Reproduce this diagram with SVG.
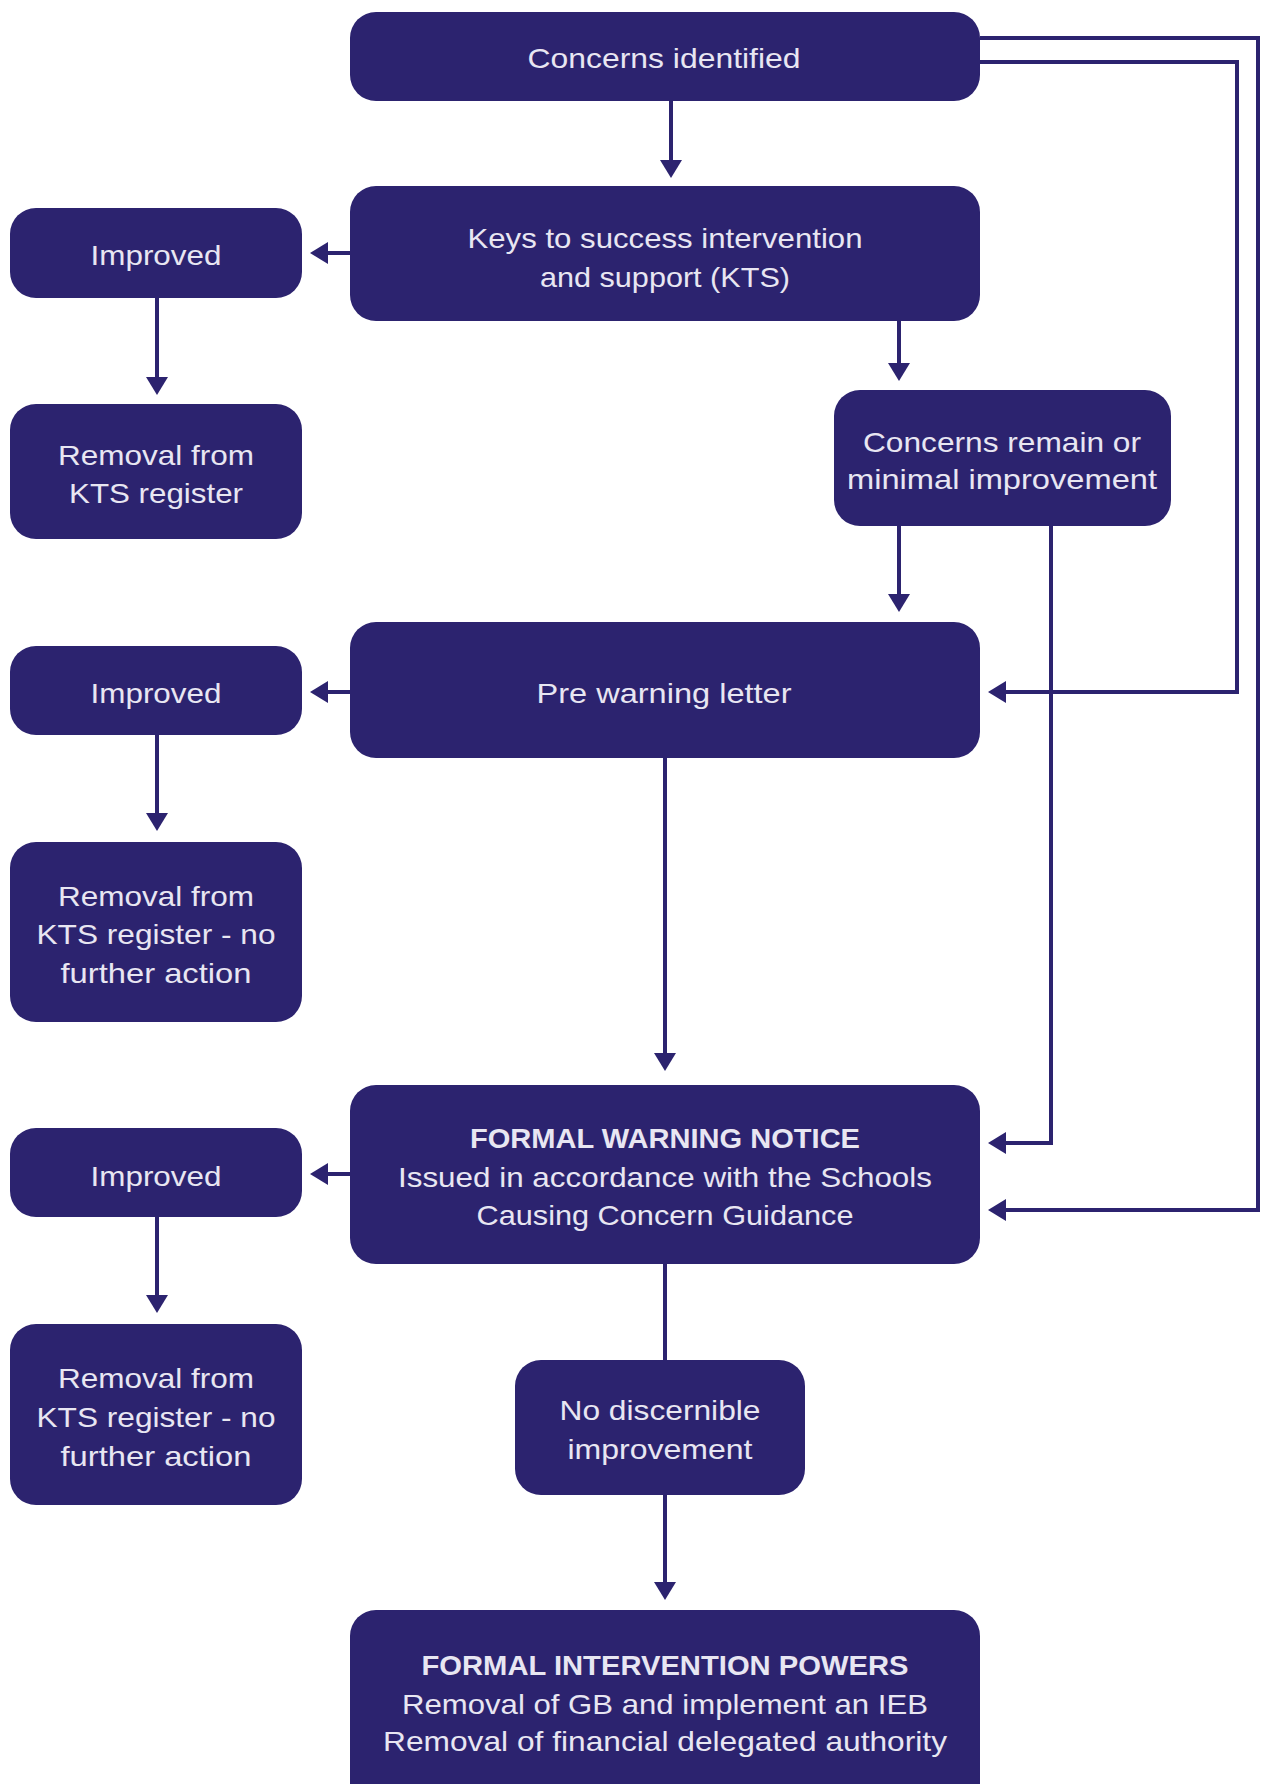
<svg xmlns="http://www.w3.org/2000/svg" width="1261" height="1784" viewBox="0 0 1261 1784">
<defs>
<style>
.box{fill:#2c236f;}
.t{font-family:"Liberation Sans",Arial,sans-serif;font-size:28px;fill:#e8e6f2;text-anchor:middle;}
.b{font-weight:bold;}
.c{fill:none;stroke:#2c236f;stroke-width:4;}
</style>
<marker id="ah" viewBox="0 0 18 22" refX="6" refY="11" markerWidth="18" markerHeight="22" markerUnits="userSpaceOnUse" orient="auto">
<path d="M0,0 L18,11 L0,22 z" fill="#2c236f"/>
</marker>
</defs>
<rect width="1261" height="1784" fill="#ffffff"/>
<g id="connectors">
<path class="c" d="M671,101 V166" marker-end="url(#ah)"/>
<path class="c" d="M350,253 H322" marker-end="url(#ah)"/>
<path class="c" d="M157,298 V383" marker-end="url(#ah)"/>
<path class="c" d="M899,321 V369" marker-end="url(#ah)"/>
<path class="c" d="M899,526 V600" marker-end="url(#ah)"/>
<path class="c" d="M980,62 H1237 V692 H1000" marker-end="url(#ah)"/>
<path class="c" d="M980,38 H1258 V1210 H1000" marker-end="url(#ah)"/>
<path class="c" d="M1051,526 V1143 H1000" marker-end="url(#ah)"/>
<path class="c" d="M350,692 H322" marker-end="url(#ah)"/>
<path class="c" d="M157,735 V819" marker-end="url(#ah)"/>
<path class="c" d="M665,758 V1059" marker-end="url(#ah)"/>
<path class="c" d="M350,1174 H322" marker-end="url(#ah)"/>
<path class="c" d="M157,1217 V1301" marker-end="url(#ah)"/>
<path class="c" d="M665,1264 V1360"/>
<path class="c" d="M665,1495 V1588" marker-end="url(#ah)"/>
</g>
<g id="concerns-identified">
<rect class="box" x="350" y="12" width="630" height="89" rx="26"/>
<text class="t" x="664" y="68" textLength="273" lengthAdjust="spacingAndGlyphs">Concerns identified</text>
</g>
<g id="kts">
<rect class="box" x="350" y="186" width="630" height="135" rx="26"/>
<text class="t" x="665" y="248" textLength="395" lengthAdjust="spacingAndGlyphs">Keys to success intervention</text>
<text class="t" x="665" y="287" textLength="250" lengthAdjust="spacingAndGlyphs">and support (KTS)</text>
</g>
<g id="improved-1">
<rect class="box" x="10" y="208" width="292" height="90" rx="26"/>
<text class="t" x="156" y="265" textLength="131" lengthAdjust="spacingAndGlyphs">Improved</text>
</g>
<g id="removal-1">
<rect class="box" x="10" y="404" width="292" height="135" rx="26"/>
<text class="t" x="156" y="465" textLength="196" lengthAdjust="spacingAndGlyphs">Removal from</text>
<text class="t" x="156" y="503" textLength="174" lengthAdjust="spacingAndGlyphs">KTS register</text>
</g>
<g id="concerns-remain">
<rect class="box" x="834" y="390" width="337" height="136" rx="26"/>
<text class="t" x="1002" y="452" textLength="278" lengthAdjust="spacingAndGlyphs">Concerns remain or</text>
<text class="t" x="1002" y="489" textLength="310" lengthAdjust="spacingAndGlyphs">minimal improvement</text>
</g>
<g id="pre-warning">
<rect class="box" x="350" y="622" width="630" height="136" rx="26"/>
<text class="t" x="664" y="703" textLength="255" lengthAdjust="spacingAndGlyphs">Pre warning letter</text>
</g>
<g id="improved-2">
<rect class="box" x="10" y="646" width="292" height="89" rx="26"/>
<text class="t" x="156" y="703" textLength="131" lengthAdjust="spacingAndGlyphs">Improved</text>
</g>
<g id="removal-2">
<rect class="box" x="10" y="842" width="292" height="180" rx="26"/>
<text class="t" x="156" y="906" textLength="196" lengthAdjust="spacingAndGlyphs">Removal from</text>
<text class="t" x="156" y="944" textLength="239" lengthAdjust="spacingAndGlyphs">KTS register - no</text>
<text class="t" x="156" y="983" textLength="191" lengthAdjust="spacingAndGlyphs">further action</text>
</g>
<g id="formal-warning">
<rect class="box" x="350" y="1085" width="630" height="179" rx="26"/>
<text class="t b" x="665" y="1148" textLength="390" lengthAdjust="spacingAndGlyphs">FORMAL WARNING NOTICE</text>
<text class="t" x="665" y="1187" textLength="534" lengthAdjust="spacingAndGlyphs">Issued in accordance with the Schools</text>
<text class="t" x="665" y="1225" textLength="377" lengthAdjust="spacingAndGlyphs">Causing Concern Guidance</text>
</g>
<g id="improved-3">
<rect class="box" x="10" y="1128" width="292" height="89" rx="26"/>
<text class="t" x="156" y="1186" textLength="131" lengthAdjust="spacingAndGlyphs">Improved</text>
</g>
<g id="removal-3">
<rect class="box" x="10" y="1324" width="292" height="181" rx="26"/>
<text class="t" x="156" y="1388" textLength="196" lengthAdjust="spacingAndGlyphs">Removal from</text>
<text class="t" x="156" y="1427" textLength="239" lengthAdjust="spacingAndGlyphs">KTS register - no</text>
<text class="t" x="156" y="1466" textLength="191" lengthAdjust="spacingAndGlyphs">further action</text>
</g>
<g id="no-discernible">
<rect class="box" x="515" y="1360" width="290" height="135" rx="26"/>
<text class="t" x="660" y="1420" textLength="201" lengthAdjust="spacingAndGlyphs">No discernible</text>
<text class="t" x="660" y="1459" textLength="185" lengthAdjust="spacingAndGlyphs">improvement</text>
</g>
<g id="formal-intervention">
<rect class="box" x="350" y="1610" width="630" height="200" rx="26"/>
<text class="t b" x="665" y="1675" textLength="487" lengthAdjust="spacingAndGlyphs">FORMAL INTERVENTION POWERS</text>
<text class="t" x="665" y="1714" textLength="526" lengthAdjust="spacingAndGlyphs">Removal of GB and implement an IEB</text>
<text class="t" x="665" y="1751" textLength="564" lengthAdjust="spacingAndGlyphs">Removal of financial delegated authority</text>
</g>
</svg>
